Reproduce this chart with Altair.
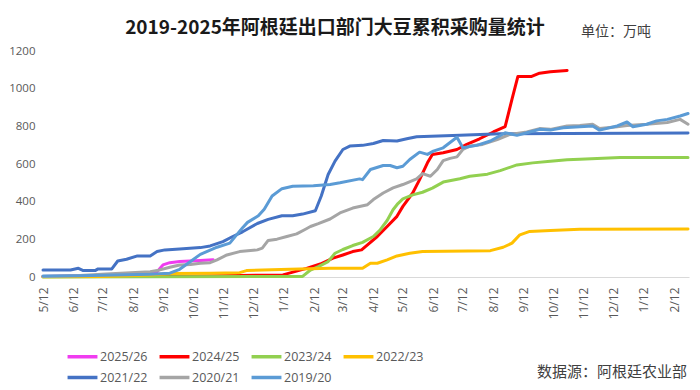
import altair as alt
import pandas as pd

# Seasons (legend order) and Excel-like colours
SEASONS = ["2025/26", "2024/25", "2023/24", "2022/23", "2021/22", "2020/21", "2019/20"]
COLORS = ["#F03CF0", "#FF0000", "#92D050", "#FFC000", "#4472C4", "#A5A5A5", "#5B9BD5"]

# days since 5/12 of the season start, cumulative purchases (万吨)
d_2526 = [0, 60, 109, 116, 122, 129, 139, 160, 173]
v_2526 = [3, 8, 18, 28, 64, 76, 82, 87, 91]

d_2425 = [0, 150, 244, 268, 282, 295, 305, 315, 324, 330, 340, 350, 360, 366, 376, 383, 391, 396, 407, 421,
          431, 444, 458, 470, 477, 483, 497, 505, 516, 533]
v_2425 = [2, 4, 11, 46, 69, 100, 117, 135, 144, 171, 215, 268, 322, 375, 446, 517, 606, 651, 660, 677,
          704, 734, 770, 798, 944, 1065, 1065, 1082, 1090, 1097]

d_2324 = [0, 264, 272, 280, 290, 297, 305, 315, 325, 336, 343, 350, 356, 361, 366, 376, 386, 396, 407, 424,
          434, 452, 465, 482, 498, 516, 533, 546, 587, 656]
v_2324 = [0, 3, 37, 55, 82, 126, 146, 167, 184, 215, 251, 300, 357, 390, 415, 436, 450, 472, 504, 522,
          535, 546, 565, 595, 606, 615, 622, 625, 635, 635]

d_2223 = [0, 60, 109, 129, 170, 200, 207, 251, 292, 325, 333, 340, 350, 360, 373, 386, 455, 468, 477, 485,
          495, 516, 546, 656]
v_2223 = [1, 3, 10, 18, 20, 23, 34, 41, 46, 46, 73, 73, 91, 112, 126, 135, 140, 158, 180, 224,
          242, 247, 254, 255]

d_2122 = [0, 28, 36, 41, 53, 56, 70, 76, 85, 96, 109, 116, 124, 139, 160, 170, 183, 193, 203, 218,
          229, 243, 254, 264, 277, 283, 290, 297, 305, 312, 325, 336, 346, 360, 370, 380, 424, 465, 656]
v_2122 = [37, 37, 46, 34, 34, 43, 43, 85, 94, 112, 112, 135, 144, 149, 156, 165, 188, 215, 240, 284,
          306, 325, 325, 334, 352, 430, 544, 615, 677, 695, 699, 709, 725, 722, 734, 745, 752, 760, 765]

d_2021 = [0, 38, 64, 109, 116, 129, 139, 150, 160, 170, 177, 187, 200, 218, 223, 229, 238, 248, 258, 266,
          272, 280, 292, 302, 315, 330, 336, 346, 356, 366, 380, 386, 394, 401, 407, 414, 421, 427, 434, 447,
          462, 475, 492, 505, 516, 533, 546, 559, 566, 584, 594, 614, 635, 648, 656]
v_2021 = [3, 8, 16, 28, 34, 52, 64, 66, 73, 76, 91, 117, 135, 144, 153, 194, 201, 215, 229, 251,
          268, 283, 308, 340, 366, 384, 411, 446, 473, 491, 521, 549, 535, 571, 618, 630, 638, 677, 695, 704,
          730, 757, 770, 788, 784, 802, 805, 811, 788, 798, 805, 811, 820, 837, 811]

d_1920 = [0, 38, 109, 129, 139, 150, 160, 177, 190, 203, 208, 219, 225, 233, 243, 254, 275, 292, 302, 322,
          325, 333, 346, 353, 360, 366, 373, 383, 391, 397, 407, 421, 427, 441, 455, 470, 482, 495, 505, 516,
          529, 546, 559, 566, 584, 594, 600, 614, 624, 635, 648, 656]
v_1920 = [5, 7, 14, 20, 41, 82, 120, 158, 180, 262, 290, 325, 360, 430, 469, 482, 485, 491, 500, 521,
          517, 571, 592, 592, 580, 588, 624, 663, 651, 668, 686, 742, 686, 699, 722, 766, 752, 770, 784, 780,
          793, 798, 802, 780, 802, 823, 798, 811, 829, 837, 855, 868]

# x-axis tick dates (the 12th of each month) and y-axis ticks
TICK_DATES = [(2019, m) for m in range(5, 13)] + [(2020, m) for m in range(1, 13)] + [(2021, 1), (2021, 2)]
Y_TICKS = [0, 200, 400, 600, 800, 1000, 1200]

TITLE = "2019-2025年阿根廷出口部门大豆累积采购量统计"
UNIT = "单位：万吨"
SOURCE = "数据源：阿根廷农业部"

series = {
    "2025/26": (d_2526, v_2526), "2024/25": (d_2425, v_2425), "2023/24": (d_2324, v_2324),
    "2022/23": (d_2223, v_2223), "2021/22": (d_2122, v_2122), "2020/21": (d_2021, v_2021),
    "2019/20": (d_1920, v_1920),
}
base_date = pd.Timestamp("2019-05-12")
rows = []
for s, (dd, vv) in series.items():
    for d, v in zip(dd, vv):
        rows.append({"season": s, "date": (base_date + pd.Timedelta(days=d)).strftime("%Y-%m-%d"), "value": v})
df = pd.DataFrame(rows)

FONT = "Open Sans"
CJK = "Noto Sans CJK SC"

x_enc = alt.X(
    "date:T",
    scale=alt.Scale(type="utc", domain=[alt.DateTime(year=2019, month=5, date=12, utc=True),
                                        alt.DateTime(year=2021, month=2, date=27, utc=True)]),
    axis=alt.Axis(
        values=[alt.DateTime(year=y, month=m, date=12, utc=True) for y, m in TICK_DATES],
        labelExpr="utcFormat(datum.value, '%-m/%-d')",
        labelAngle=270, labelFontSize=12, labelColor="#595959", labelFont=FONT,
        labelPadding=10, ticks=False, grid=False, domainColor="#D9D9D9", domainWidth=1,
        title=None, labelOverlap=False,
    ),
)
y_enc = alt.Y(
    "value:Q",
    scale=alt.Scale(domain=[0, 1200]),
    axis=alt.Axis(values=Y_TICKS, format="d", labelFontSize=11.5, labelColor="#595959",
                  labelFont=FONT, labelPadding=8, ticks=False, grid=False, domain=False, title=None),
)
color_enc = alt.Color(
    "season:N",
    scale=alt.Scale(domain=SEASONS, range=COLORS),
    legend=alt.Legend(
        orient="none", legendX=26, legendY=292, direction="horizontal", columns=4, title=None,
        symbolType="M-1.3,0L1.3,0", symbolSize=529, symbolStrokeWidth=3.5, labelFontSize=12.5,
        labelColor="#595959", labelFont=FONT, columnPadding=4, rowPadding=0, labelOffset=4, padding=0,
    ),
)

base = alt.Chart(df)
layers = []
for s in SEASONS:
    layers.append(
        base.transform_filter(alt.datum.season == s)
        .mark_line(strokeWidth=3, strokeJoin="round", strokeCap="round")
        .encode(x=x_enc, y=y_enc, color=color_enc)
    )

unit = alt.Chart(pd.DataFrame({"t": [UNIT]})).mark_text(
    font=CJK, fontSize=14, color="#404040", align="center", baseline="middle"
).encode(text="t:N", x=alt.value(573), y=alt.value(-19))

source = alt.Chart(pd.DataFrame({"t": [SOURCE]})).mark_text(
    font=CJK, fontSize=15, color="#404040", align="center", baseline="middle"
).encode(text="t:N", x=alt.value(569), y=alt.value(321))

chart = alt.layer(*layers, unit, source).properties(
    width=646, height=226,
    padding={"left": 35, "top": 43, "right": 3, "bottom": 112},
    autosize=alt.AutoSizeParams(type="none"),
    title=alt.TitleParams(text=TITLE, font=CJK, fontSize=19, fontWeight="bold", color="#1a1a1a",
                          anchor="middle", dx=-31, dy=23, offset=10),
).configure_view(stroke=None)

chart.save("out.html", embed_options={"renderer": "svg", "actions": False})
